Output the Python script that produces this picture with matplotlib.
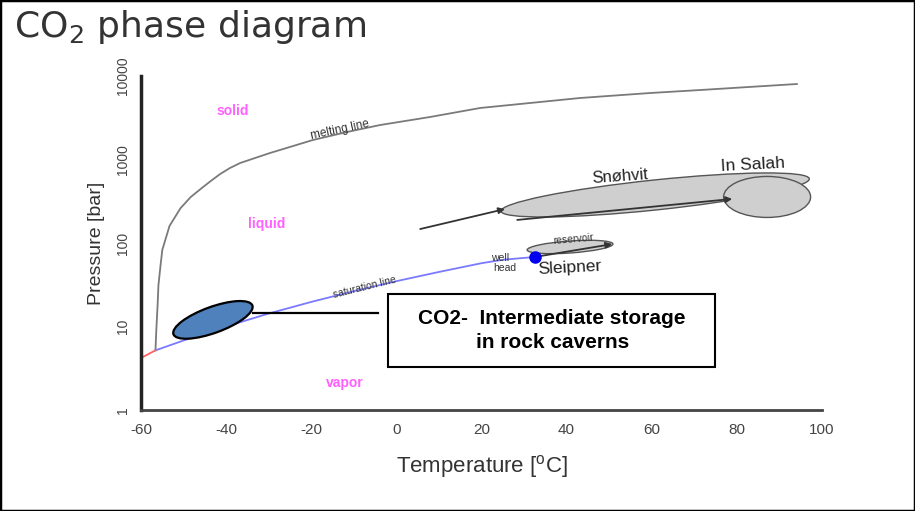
import matplotlib
matplotlib.use('Agg')
import matplotlib.pyplot as plt
import matplotlib.transforms as mtransforms
from matplotlib.patches import Ellipse, Rectangle

plt.rcParams['font.family'] = ['Liberation Sans', 'DejaVu Sans']
plt.rcParams['mathtext.default'] = 'regular'

# melting line (T degC, P bar)
melt_T = [-56.6, -56.4, -56.1, -55.9, -55.4, -55.0, -53.3, -50.7, -48.3, -45.4,
          -43.3, -41.4, -39.1, -36.7, -33.2, -29.7, -25.0, -19.6, -11.6, -3.8,
          7.9, 19.7, 31.4, 43.2, 59.6, 71.3, 94.1]
melt_P = [5.2, 9.1, 18.1, 31.4, 54.5, 82.5, 160, 262, 356, 469,
          568, 670, 791, 908, 1042, 1196, 1413, 1713, 2135, 2589,
          3228, 4140, 4750, 5455, 6255, 6790, 8020]

# saturation line, triple point -> critical point
sat_T = [-56.6, -50, -40, -30, -20, -10, 0, 10, 20, 25, 32.5]
sat_P = [5.18, 6.8, 10.0, 14.3, 19.7, 26.5, 34.9, 45.0, 57.3, 63.0, 68]

# sublimation bit (red)
sub_T = [-60, -56.6]
sub_P = [4.2, 5.18]

x_ticks = [-60, -40, -20, 0, 20, 40, 60, 80, 100]
y_ticks = [1, 10, 100, 1000, 10000]

# phase labels
phases = ['solid', 'liquid', 'vapor']
phase_T = [-38.4, -30.4, -12.1]
phase_P = [3800, 169, 2.1]

# sites: wellhead -> reservoir
snohvit_well = (5.6, 147)
snohvit_res = (25.5, 255)
insalah_well = (28.4, 189)
insalah_res = (78.9, 337)
sleipner_well = (32.5, 68)
sleipner_res = (50.7, 97)

fig = plt.figure(figsize=(9.15, 5.11), dpi=100)
ax = fig.add_axes([141/915, 1-410/511, 681/915, 334/511])
ax.set_yscale('log')
ax.set_xlim(-60, 100)
ax.set_ylim(1, 10000)

ax.plot(melt_T, melt_P, color='#7a7a7a', lw=1.3)
ax.plot(sat_T, sat_P, color='#7a7aff', lw=1.3)
ax.plot(sub_T, sub_P, color='#ff6060', lw=1.3)

def px_ellipse(xy, w, h, angle, **kw):
    # ellipse sized in pixels, centred on a data point
    tr = fig.dpi_scale_trans + mtransforms.ScaledTranslation(xy[0], xy[1], ax.transData)
    e = Ellipse((0, 0), w/100, h/100, angle=angle, transform=tr, **kw)
    ax.add_patch(e)
    return e

# Snohvit / In Salah / Sleipner reservoirs
px_ellipse((60.8, 376), 310, 30, 6, fc='#cfcfcf', ec='#555555', lw=1.0, zorder=2)
px_ellipse((87.1, 356), 87, 41, 0, fc='#cfcfcf', ec='#555555', lw=1.0, zorder=3)
px_ellipse((40.8, 89.6), 86, 12, 4, fc='#cfcfcf', ec='#555555', lw=1.0, zorder=2)

arrow = dict(arrowstyle='-|>', color='#333333', lw=1.3, mutation_scale=9, shrinkA=0, shrinkB=0)
ax.annotate('', xy=snohvit_res, xytext=snohvit_well, arrowprops=arrow, zorder=4)
ax.annotate('', xy=insalah_res, xytext=insalah_well, arrowprops=arrow, zorder=4)
ax.annotate('', xy=sleipner_res, xytext=sleipner_well, arrowprops=arrow, zorder=4)
ax.plot([sleipner_well[0]], [sleipner_well[1]], 'o', color='#0000ee', ms=8, zorder=5)

ax.text(52.6, 620, 'Snøhvit', fontsize=12, color='#222222', ha='center', va='center', rotation=4)
ax.text(83.8, 860, 'In Salah', fontsize=12.5, color='#222222', ha='center', va='center', rotation=3)
ax.text(40.8, 50, 'Sleipner', fontsize=12.5, color='#222222', ha='center', va='center', rotation=3)
ax.text(41.5, 112, 'reservoir', fontsize=7.5, color='#333333', ha='center', va='center', rotation=5)
ax.text(24.4, 66, 'well', fontsize=7.5, color='#333333', ha='center', va='center')
ax.text(25.5, 50, 'head', fontsize=7.5, color='#333333', ha='center', va='center')

ax.text(-13.2, 2250, 'melting line', fontsize=8.5, color='#333333', ha='center', va='center', rotation=12)
ax.text(-7.4, 29.8, 'saturation line', fontsize=7.5, color='#333333', ha='center', va='center', rotation=14)

for name, t, p in zip(phases, phase_T, phase_P):
    ax.text(t, p, name, fontsize=10, fontweight='bold', color='#ff60ff', ha='center', va='center')

# intermediate storage ellipse + callout
px_ellipse((-43.1, 12.0), 84, 26, 20, fc='#4f81bd', ec='black', lw=1.6, zorder=3)
ax.plot([-33.7, -4.3], [14.5, 14.5], color='black', lw=1.6)
ax.add_patch(Rectangle((-2.0, 3.27), 76.9, 24.5-3.27, fill=False, ec='black', lw=1.5, zorder=3))
ax.text(36.6, 9.0, 'CO2-  Intermediate storage\nin rock caverns', fontsize=15, fontweight='bold',
        ha='center', va='center', linespacing=1.3, color='black')

ax.spines['top'].set_visible(False)
ax.spines['right'].set_visible(False)
ax.spines['left'].set_linewidth(2.5)
ax.spines['left'].set_color('#222222')
ax.spines['bottom'].set_linewidth(2)
ax.spines['bottom'].set_color('#444444')

ax.set_xticks(x_ticks)
ax.set_xticklabels([str(v) for v in x_ticks])
ax.set_yticks(y_ticks)
ax.set_yticklabels([str(v) for v in y_ticks], rotation=90, va='center')
ax.minorticks_off()
ax.tick_params(axis='x', length=0, pad=9, labelsize=11, labelcolor='#444444')
ax.tick_params(axis='y', length=0, pad=8, labelsize=10, labelcolor='#444444')

ax.set_xlabel('Temperature [$^{o}$C]', fontsize=16, color='#333333', labelpad=12)
ax.set_ylabel('Pressure [bar]', fontsize=14, color='#333333', labelpad=8)

fig.text(14/915, 1-27/511, 'CO$_2$ phase diagram', fontsize=26, color='#333333', ha='left', va='center',
         family='DejaVu Sans')

fig.patches.append(Rectangle((0, 0), 1, 1, transform=fig.transFigure, fill=False, ec='black', lw=2.5))

fig.savefig('out.png', dpi=100)
